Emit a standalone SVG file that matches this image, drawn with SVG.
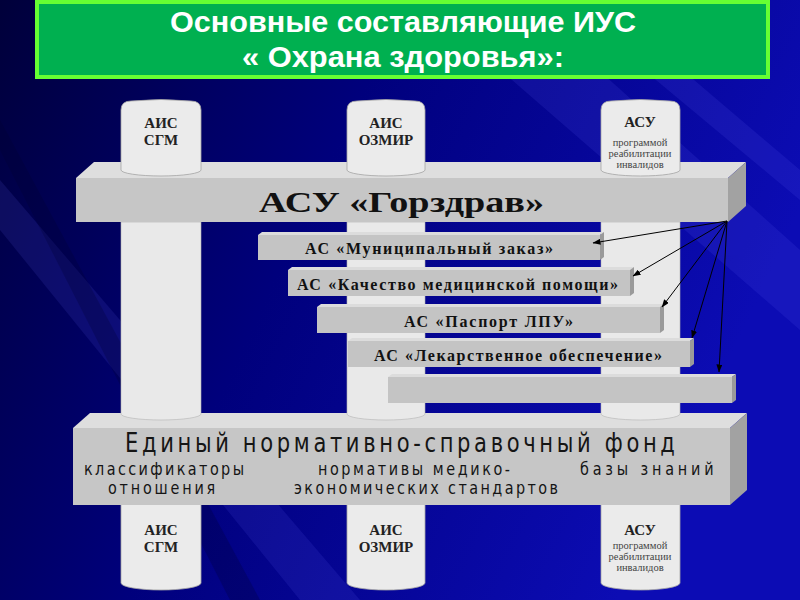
<svg xmlns="http://www.w3.org/2000/svg" width="800" height="600" viewBox="0 0 800 600">
<defs>
<linearGradient id="bg" x1="0" y1="0" x2="1" y2="0.35">
<stop offset="0" stop-color="#00003a"/>
<stop offset="0.45" stop-color="#00007c"/>
<stop offset="1" stop-color="#0c0cb4"/>
</linearGradient>
<marker id="ah" markerWidth="8" markerHeight="6" refX="7.5" refY="3" orient="auto" markerUnits="userSpaceOnUse">
<path d="M0,0 L8,3 L0,6 Z" fill="#000"/>
</marker>
<style>
.cyl{fill:#ebebeb;stroke:#a4a4a4;stroke-width:0.8}
.col{fill:#e9e9e9;stroke:#b4b4b4;stroke-width:0.6}
.front{fill:#c6c6c6}
.top{fill:#dedede}
.side{fill:#a2a2a2}
.sfront{fill:#c4c4c4}
.stop{fill:#dcdcdc}
.sside{fill:#9a9a9a}
.ttl{font-family:"Liberation Sans",Arial,sans-serif;font-weight:bold;fill:#fff;text-anchor:middle}
.big{font-family:"Liberation Serif","Times New Roman",serif;font-weight:bold;fill:#111;font-size:29px}
.bar{font-family:"Liberation Serif","Times New Roman",serif;font-weight:bold;fill:#111;font-size:16px}
.cb{font-family:"Liberation Serif","Times New Roman",serif;font-weight:bold;fill:#222;font-size:15px;text-anchor:middle}
.cs{font-family:"Liberation Serif","Times New Roman",serif;fill:#444;font-size:10.5px;text-anchor:middle}
.nsi{font-family:"DejaVu Sans",sans-serif;fill:#151515}
.conn{stroke:#000;stroke-width:1;fill:none;marker-end:url(#ah)}
</style>
</defs>
<rect x="0" y="0" width="800" height="600" fill="url(#bg)"/>
<g opacity="0.12" fill="#6a6aff">
<polygon points="420,0 520,0 800,250 800,330"/>
<polygon points="560,0 600,0 800,170 800,200"/>
<polygon points="0,180 0,230 300,600 360,600"/>
</g>
<g opacity="0.25" fill="#000030">
<polygon points="0,120 0,150 230,600 260,600"/>
</g>

<g id="title">
<rect x="37" y="2" width="731" height="75" fill="#00b050" stroke="#66ff33" stroke-width="4"/>
<text class="ttl" x="403" y="32" font-size="29" textLength="466" lengthAdjust="spacingAndGlyphs">Основные составляющие ИУС</text>
<text class="ttl" x="403" y="67" font-size="29" textLength="322" lengthAdjust="spacingAndGlyphs">« Охрана здоровья»:</text>
</g>

<g id="cyl-bottom-1">
<path class="cyl" d="M121,500 V583 A40,7 0 0 0 201,583 V500 Z"/>
<text class="cb" x="161" y="535">АИС</text>
<text class="cb" x="161" y="552">СГМ</text>
</g>
<g id="cyl-bottom-2">
<path class="cyl" d="M347,500 V583 A39,7 0 0 0 425,583 V500 Z"/>
<text class="cb" x="386" y="535">АИС</text>
<text class="cb" x="386" y="552">ОЗМИР</text>
</g>
<g id="cyl-bottom-3">
<path class="cyl" d="M601,500 V583 A39.5,7 0 0 0 680,583 V500 Z"/>
<text class="cb" x="640" y="535">АСУ</text>
<text class="cs" x="640" y="549">программой</text>
<text class="cs" x="640" y="560">реабилитации</text>
<text class="cs" x="640" y="571">инвалидов</text>
</g>

<g id="band-nsi">
<polygon class="top" points="73,428 90,413 747,413 730,428"/>
<polygon class="side" points="730,428 747,413 747,490 730,505"/>
<rect class="front" x="73" y="428" width="657" height="77"/>
<text class="nsi" transform="translate(125,452) scale(0.78,1)" x="0" y="0" font-size="27" textLength="705" lengthAdjust="spacing">Единый нормативно-справочный фонд</text>
<text class="nsi" transform="translate(84,475) scale(0.8,1)" x="0" y="0" font-size="18" textLength="200" lengthAdjust="spacing">классификаторы</text>
<text class="nsi" transform="translate(318,475) scale(0.8,1)" x="0" y="0" font-size="18" textLength="240" lengthAdjust="spacing">нормативы медико-</text>
<text class="nsi" transform="translate(580,475) scale(0.8,1)" x="0" y="0" font-size="18" textLength="167" lengthAdjust="spacing">базы знаний</text>
<text class="nsi" transform="translate(108,494) scale(0.8,1)" x="0" y="0" font-size="18" textLength="134" lengthAdjust="spacing">отношения</text>
<text class="nsi" transform="translate(294,494) scale(0.8,1)" x="0" y="0" font-size="18" textLength="330" lengthAdjust="spacing">экономических стандартов</text>
</g>

<g id="column-1"><path class="col" d="M121,222 V414 A40,6 0 0 0 201,414 V222 Z"/></g>
<g id="column-2"><path class="col" d="M347,222 V414 A39,6 0 0 0 425,414 V222 Z"/></g>
<g id="column-3"><path class="col" d="M601,222 V414 A39.5,6 0 0 0 680,414 V222 Z"/></g>

<g id="bar-gorzdrav">
<polygon class="top" points="76,178 94,162 746,162 728,178"/>
<polygon class="side" points="728,178 746,162 746,206 728,222"/>
<rect class="front" x="76" y="178" width="652" height="44"/>
<text class="big" x="259" y="212" textLength="285" lengthAdjust="spacingAndGlyphs">АСУ «Горздрав»</text>
</g>

<g id="cyl-top-1">
<path class="cyl" d="M121,110 Q121,101 131,101 Q161,98 191,101 Q201,101 201,110 V170 A40,6 0 0 1 121,170 Z"/>
<text class="cb" x="161" y="128">АИС</text>
<text class="cb" x="161" y="145">СГМ</text>
</g>
<g id="cyl-top-2">
<path class="cyl" d="M347,110 Q347,101 357,101 Q386,98 415,101 Q425,101 425,110 V170 A39,6 0 0 1 347,170 Z"/>
<text class="cb" x="386" y="128">АИС</text>
<text class="cb" x="386" y="145">ОЗМИР</text>
</g>
<g id="cyl-top-3">
<path class="cyl" d="M601,110 Q601,101 611,101 Q640,98 670,101 Q680,101 680,110 V170 A39.5,6 0 0 1 601,170 Z"/>
<text class="cb" x="640" y="127">АСУ</text>
<text class="cs" x="640" y="146">программой</text>
<text class="cs" x="640" y="157">реабилитации</text>
<text class="cs" x="640" y="168">инвалидов</text>
</g>

<g id="bar-ac-1">
<polygon class="stop" points="258,235 262,232 604,232 600,235"/>
<polygon class="sside" points="600,235 604,232 604,257 600,260"/>
<rect class="sfront" x="258" y="235" width="342" height="25"/>
<text class="bar" x="305" y="254" textLength="248" lengthAdjust="spacing">АС «Муниципальный заказ»</text>
</g>
<g id="bar-ac-2">
<polygon class="stop" points="288,270 292,267 634,267 630,270"/>
<polygon class="sside" points="630,270 634,267 634,293 630,296"/>
<rect class="sfront" x="288" y="270" width="342" height="26"/>
<text class="bar" x="297" y="290" textLength="321" lengthAdjust="spacing">АС «Качество медицинской помощи»</text>
</g>
<g id="bar-ac-3">
<polygon class="stop" points="317,307 321,304 664,304 660,307"/>
<polygon class="sside" points="660,307 664,304 664,330 660,333"/>
<rect class="sfront" x="317" y="307" width="343" height="26"/>
<text class="bar" x="404" y="327" textLength="169" lengthAdjust="spacing">АС «Паспорт ЛПУ»</text>
</g>
<g id="bar-ac-4">
<polygon class="stop" points="348,341 352,338 694,338 690,341"/>
<polygon class="sside" points="690,341 694,338 694,364 690,367"/>
<rect class="sfront" x="348" y="341" width="342" height="26"/>
<text class="bar" x="374" y="361" textLength="288" lengthAdjust="spacing">АС «Лекарственное обеспечение»</text>
</g>
<g id="bar-ac-5">
<polygon class="stop" points="388,377 392,374 736,374 732,377"/>
<polygon class="sside" points="732,377 736,374 736,400 732,403"/>
<rect class="sfront" x="388" y="377" width="344" height="26"/>
</g>

<g id="connectors">
<line class="conn" x1="727" y1="221" x2="593" y2="243"/>
<line class="conn" x1="727" y1="221" x2="633" y2="276"/>
<line class="conn" x1="727" y1="221" x2="662" y2="307"/>
<line class="conn" x1="727" y1="221" x2="692" y2="338"/>
<line class="conn" x1="727" y1="221" x2="719" y2="372"/>
</g>
</svg>
